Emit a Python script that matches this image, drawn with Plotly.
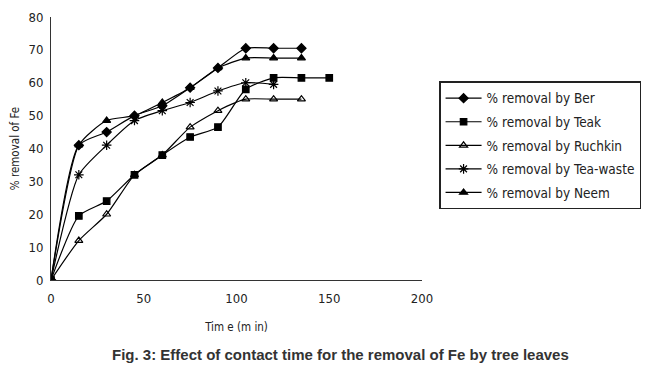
import plotly.graph_objects as go

time = [0, 15, 30, 45, 60, 75, 90, 105, 120, 135, 150]
ber = [0, 41, 45, 50, 53, 58.5, 64.5, 70.5, 70.5, 70.5]
teak = [0, 19.5, 24, 32, 38, 43.5, 46.5, 58, 61.5, 61.5, 61.5]
ruchkin = [0, 12, 20, 32, 38, 46.5, 51.5, 55, 55, 55]
tea_waste = [0, 32, 41, 48.5, 51.5, 54, 57.5, 60, 59.5]
neem = [0, 41, 48.5, 50, 54, 58.5, 64.5, 67.5, 67.5, 67.5]

series = [
    ("% removal by Ber", ber, "diamond", 7),
    ("% removal by Teak", teak, "square", 6.5),
    ("% removal by Ruchkin", ruchkin, "triangle-up-open", 7),
    ("% removal by Tea-waste", tea_waste, "asterisk-open", 8),
    ("% removal by Neem", neem, "triangle-up", 7),
]

fig = go.Figure()
for i, (name, vals, sym, sz) in enumerate(series):
    fig.add_trace(go.Scatter(
        x=time[:len(vals)], y=vals, name=name, mode="lines+markers",
        line=dict(color="black", width=1.2, shape="spline", smoothing=0.6),
        marker=dict(symbol=sym, size=sz, color="black",
                    line=dict(color="black", width=1.2)),
        legendgroup=str(i),
    ))

narrow = "Liberation Sans Narrow, Arial Narrow, DejaVu Sans Condensed, Arial"
tickfont = dict(family=narrow, size=13, color="#222")
# page body has an 8px default margin, so the figure is 8px smaller and margins shifted
fig.update_layout(
    width=657, height=363,
    margin=dict(l=43, r=243, t=9, b=91),
    paper_bgcolor="white", plot_bgcolor="white",
    showlegend=True,
    legend=dict(
        x=1.046, y=0.755, xanchor="left", yanchor="top",
        bordercolor="#222", borderwidth=1.5, bgcolor="white",
        font=dict(family=narrow, size=13.5, color="#222"),
        tracegroupgap=3, itemwidth=36,
    ),
    xaxis=dict(
        range=[0, 200], tickvals=[0, 50, 100, 150, 200], showgrid=False, zeroline=False,
        showline=True, linecolor="#333", linewidth=1, ticks="", tickfont=tickfont,
        automargin=False, ticklabelstandoff=6,
        title=dict(text="Tim e (m in)", font=dict(family=narrow, size=11.5, color="#222"), standoff=18),
    ),
    yaxis=dict(
        range=[0, 80], tickvals=[0, 10, 20, 30, 40, 50, 60, 70, 80], showgrid=False, zeroline=False,
        showline=True, linecolor="#333", linewidth=1, ticks="", tickfont=tickfont,
        automargin=False, ticklabelstandoff=4,
        title=dict(text="% removal of Fe", font=dict(family=narrow, size=11.5, color="#222"), standoff=10),
    ),
)
fig.add_annotation(
    text="<b>Fig. 3: Effect of contact time for the removal of Fe by tree leaves</b>",
    xref="paper", yref="paper", x=0.78, y=-0.285, xanchor="center", yanchor="middle",
    showarrow=False, font=dict(family="Liberation Sans, Arial", size=15, color="#333"),
)
fig.write_html("out.html")
